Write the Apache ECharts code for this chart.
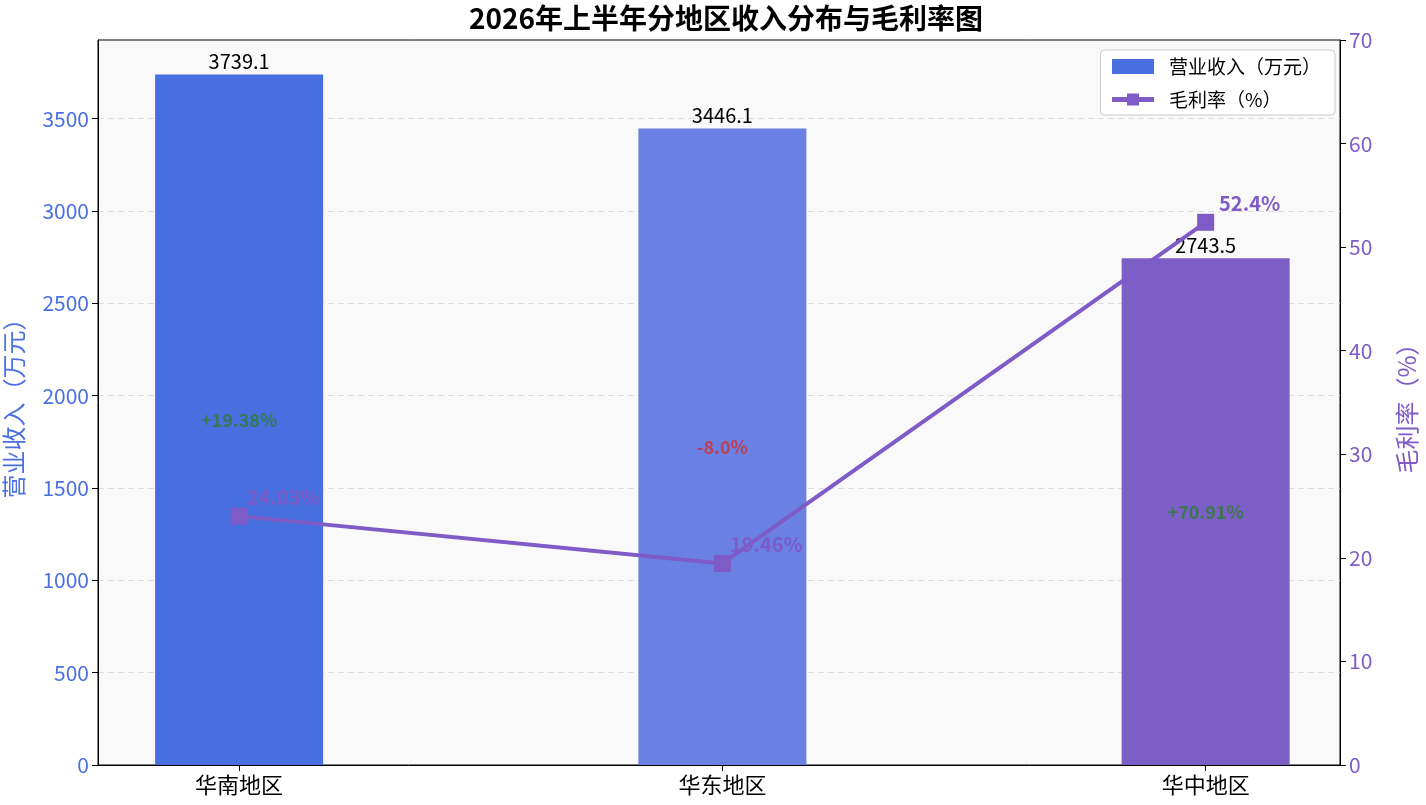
<!DOCTYPE html>
<html>
<head>
<meta charset="utf-8">
<script src="https://cdn.jsdelivr.net/npm/echarts@6/dist/echarts.min.js"></script>
<style>
  html, body { margin: 0; padding: 0; background: #fff; }
  #chart { width: 1426px; height: 805px; }
</style>
</head>
<body>
<div id="chart"></div>
<script>
// 数据
const regions = ['华南地区', '华东地区', '华中地区'];
const revenue = [3739.1, 3446.1, 2743.5];
const margin = [24.03, 19.46, 52.4];
const changes = ['+19.38%', '-8.0%', '+70.91%'];
const barColors = ['#486fe0', '#6a80e3', '#7b5fc7'];

const font = '"Noto Sans CJK SC", "Noto Sans", sans-serif';
const purple = '#7e5bc6';
const blue = '#4a6fe0';

const chart = echarts.init(document.getElementById('chart'));

const option = {
    textStyle: { fontFamily: font },
    title: {
        text: '2026年上半年分地区收入分布与毛利率图',
        left: 464,
        top: -1,
        textStyle: { fontSize: 28, fontWeight: 'bold', color: '#000', fontFamily: font }
    },
    legend: {
        orient: 'vertical',
        right: 91,
        top: 50,
        backgroundColor: '#fff',
        borderColor: '#cccccc',
        borderWidth: 1,
        borderRadius: 4,
        padding: [7, 14, 6, 9],
        itemWidth: 42,
        itemHeight: 15,
        itemGap: 14,
        lineStyle: { width: 5 },
        textStyle: { fontSize: 19, color: '#000', fontFamily: font, padding: [0, 0, 0, 10] },
        data: [
            { name: '营业收入（万元）', icon: 'rect', itemStyle: { color: '#4a6fe0' } },
            { name: '毛利率（%）' }
        ]
    },
    grid: {
        left: 98,
        right: 86,
        top: 40,
        bottom: 40,
        containLabel: false,
        outerBoundsMode: 'none',
        show: true,
        backgroundColor: '#f9f9f9',
        borderColor: '#000',
        borderWidth: 1
    },
    xAxis: {
        type: 'value',
        min: -0.292,
        max: 2.278,
        splitLine: { show: false },
        axisLine: { onZero: false, lineStyle: { color: '#000' } },
        axisTick: { customValues: [0, 1, 2], length: 6, lineStyle: { color: '#000' } },
        axisLabel: {
            customValues: [0, 1, 2],
            formatter: v => regions[Math.round(v)],
            fontSize: 22,
            color: '#000',
            margin: 9
        }
    },
    yAxis: [
        {
            type: 'value',
            min: 0,
            max: 3926,
            interval: 500,
            name: '营业收入（万元）',
            nameLocation: 'middle',
            nameRotate: 90,
            nameGap: 72,
            nameTextStyle: { fontSize: 24, color: blue },
            axisLine: { show: true, onZero: false, lineStyle: { color: '#000' } },
            axisTick: { show: true, length: 6, lineStyle: { color: '#000' } },
            axisLabel: { fontSize: 21, color: blue, showMaxLabel: false, margin: 9, formatter: v => String(v) },
            splitLine: {
                show: true,
                showMinLine: false,
                showMaxLine: false,
                lineStyle: { type: [6, 4], color: '#dddddd' }
            }
        },
        {
            type: 'value',
            min: 0,
            max: 70,
            interval: 10,
            position: 'right',
            name: '毛利率（%）',
            nameLocation: 'middle',
            nameRotate: 90,
            nameGap: 55,
            nameTextStyle: { fontSize: 24, color: purple },
            axisLine: { show: true, onZero: false, lineStyle: { color: '#000' } },
            axisTick: { show: true, length: 6, lineStyle: { color: '#000' } },
            axisLabel: { fontSize: 21, color: purple, margin: 9 },
            splitLine: { show: false }
        }
    ],
    series: [
        {
            name: '营业收入（万元）',
            type: 'bar',
            barWidth: 168,
            data: revenue.map((v, i) => ({
                value: [i, v],
                itemStyle: { color: barColors[i] }
            })),
            label: {
                show: true,
                position: 'top',
                distance: 3,
                fontSize: 20,
                color: '#000',
                formatter: p => p.value[1].toFixed(1)
            },
            z: 2
        },
        {
            name: 'change',
            type: 'scatter',
            symbolSize: 0,
            silent: true,
            data: revenue.map((v, i) => ({
                value: [i, v / 2],
                label: { color: changes[i].startsWith('-') ? '#d32f2f' : '#2e7d32' }
            })),
            label: {
                show: true,
                position: 'inside',
                fontSize: 18,
                fontWeight: 'bold',
                formatter: p => changes[p.dataIndex]
            },
            z: 3
        },
        {
            name: '毛利率（%）',
            type: 'line',
            yAxisIndex: 1,
            symbol: 'rect',
            symbolSize: 17,
            color: purple,
            lineStyle: { width: 4, color: purple },
            itemStyle: { color: purple },
            data: margin.map((v, i) => [i, v]),
            label: {
                show: true,
                position: 'inside',
                offset: [44, -19],
                fontSize: 20,
                fontWeight: 'bold',
                color: purple,
                formatter: p => p.value[1] + '%'
            },
            z: 4
        }
    ]
};

chart.setOption(option);

window.addEventListener('resize', function() {
    chart.resize();
});
</script>
</body>
</html>
